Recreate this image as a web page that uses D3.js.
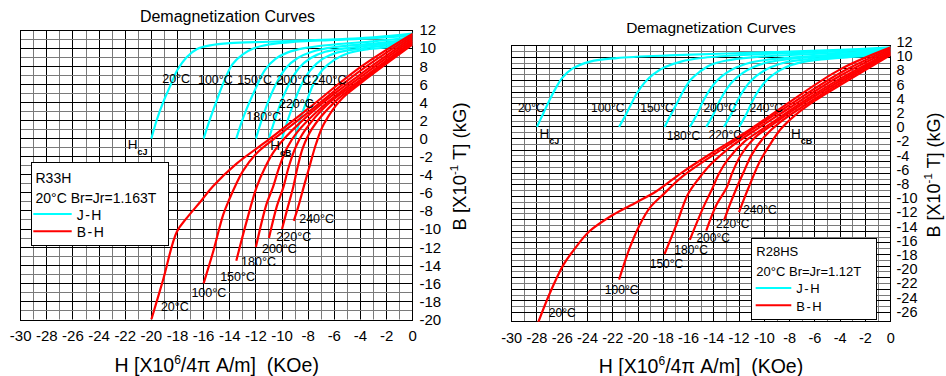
<!DOCTYPE html>
<html>
<head>
<meta charset="utf-8">
<script src="https://cdn.jsdelivr.net/npm/d3@7"></script>
<style>
  body { margin: 0; background: #fff; }
  svg { display: block; font-family: "Liberation Sans", Arial, sans-serif; }
</style>
</head>
<body>
<svg id="chart" width="946" height="376"></svg>
<script>
// ---- data (H in kOe, B/J in kG) ----
const temps = ['20°C', '100°C', '150°C', '180°C', '200°C', '220°C', '240°C'];
const hTicks = d3.range(-30, 1, 2);
const r33hTicksB = d3.range(-20, 13, 2);
const r28hsTicksB = d3.range(-26, 13, 2);

// R33H  J-H curves, one per temperature
const r33hJH = [
  [[-20, 0], [-19.6, 2], [-19.1, 4], [-18.5, 6], [-18, 7.6], [-17.3, 9], [-16.5, 9.9], [-15.5, 10.3], [-14, 10.55], [-11, 10.7], [-7, 10.9], [-3, 11.2], [0, 11.6]],
  [[-16, 0], [-15.5, 2.2], [-15, 4.2], [-14.5, 6.1], [-13.8, 8.2], [-13, 9.3], [-12.2, 9.95], [-11, 10.4], [-9, 10.7], [-6, 10.9], [-3, 11.1], [0, 11.4]],
  [[-13.5, 0], [-13, 2.2], [-12.5, 4], [-12, 5.6], [-11.3, 7.6], [-10.5, 8.8], [-9.6, 9.5], [-8.3, 10], [-6, 10.4], [-3, 10.75], [0, 11.2]],
  [[-12, 0], [-11.5, 2.3], [-11, 4.3], [-10.4, 6.2], [-9.7, 7.8], [-8.8, 8.9], [-7.7, 9.6], [-6, 10.1], [-3, 10.5], [0, 11]],
  [[-11, 0], [-10.5, 2.3], [-10, 4.3], [-9.4, 6.2], [-8.7, 7.8], [-7.8, 8.9], [-6.7, 9.6], [-5, 10], [-2.5, 10.4], [0, 10.8]],
  [[-10, 0], [-9.5, 2.3], [-9, 4.3], [-8.5, 6], [-7.8, 7.6], [-6.9, 8.8], [-5.8, 9.5], [-4, 9.95], [-2, 10.3], [0, 10.6]],
  [[-9, 0], [-8.6, 2.2], [-8.1, 4.2], [-7.6, 6], [-6.9, 7.6], [-6, 8.7], [-5, 9.4], [-3.5, 9.85], [-1.8, 10.1], [0, 10.4]]
];
// R33H  B-H curves
const r33hBH = [
  [[0, 11.6], [-4, 7.9], [-8, 3.3], [-11, -0.1], [-13.5, -2.8], [-15.3, -5.3], [-16.2, -6.9], [-17.3, -8.8], [-18.05, -10.3], [-19.1, -15.6], [-20, -20]],
  [[0, 11.4], [-4, 7.5], [-8, 2.9], [-10.5, 0.1], [-12, -1.7], [-13, -3.6], [-13.5, -5], [-14, -6.6], [-14.5, -8.4], [-15.25, -12.4], [-16, -16]],
  [[0, 11.2], [-4, 7.1], [-7, 3.8], [-9.7, 0.2], [-10.6, -1.4], [-11.3, -3.2], [-11.95, -5.4], [-12.7, -9.1], [-13.5, -13.5]],
  [[0, 11], [-4, 6.8], [-7, 3.4], [-8.9, 0.6], [-9.6, -1], [-10.2, -3.1], [-10.7, -5.4], [-11.2, -7.3], [-12, -12]],
  [[0, 10.8], [-4, 6.5], [-6.5, 3.8], [-8.3, 0.8], [-9, -1.1], [-9.5, -3.2], [-9.9, -5.4], [-10.4, -7.5], [-11, -11]],
  [[0, 10.6], [-4, 6.3], [-6, 4], [-7.7, 1.1], [-8.4, -1], [-8.8, -3.1], [-9.15, -5.4], [-9.6, -7.8], [-10, -10]],
  [[0, 10.4], [-4, 6.1], [-5.5, 4.3], [-6.8, 1.6], [-7.4, -0.6], [-7.9, -3.1], [-8.35, -5.4], [-8.75, -7.5], [-9.1, -9.1]]
];

// R28HS  J-H curves
const r28hsJH = [
  [[-28, 0], [-27.5, 1.9], [-27, 3.8], [-26.5, 5.5], [-26, 6.9], [-25.2, 8.2], [-23.8, 9.2], [-21.7, 9.7], [-17, 10.1], [-10, 10.5], [-4, 10.85], [0, 11.2]],
  [[-21.5, 0], [-21, 1.6], [-20.6, 3], [-20.1, 4.7], [-19.5, 6.2], [-18.8, 7.4], [-17.9, 8.4], [-16.6, 9.2], [-15, 9.7], [-12, 10.1], [-6, 10.5], [0, 11]],
  [[-17.9, 0], [-17.4, 1.7], [-16.9, 3.4], [-16.4, 5.1], [-15.8, 6.7], [-15.1, 7.8], [-14.3, 8.7], [-13, 9.35], [-11, 9.8], [-7, 10.2], [-3, 10.5], [0, 10.8]],
  [[-15.9, 0], [-15.3, 1.9], [-14.8, 3.8], [-14.3, 5.3], [-13.7, 6.6], [-13, 7.6], [-12.2, 8.4], [-11, 9.1], [-9, 9.6], [-6, 10], [-3, 10.3], [0, 10.6]],
  [[-14.6, 0], [-14, 1.9], [-13.5, 3.8], [-13, 5.3], [-12.4, 6.6], [-11.7, 7.6], [-10.9, 8.4], [-9.7, 9.1], [-7.8, 9.6], [-5, 9.95], [-2.5, 10.2], [0, 10.45]],
  [[-13.2, 0], [-12.6, 1.9], [-12.1, 3.8], [-11.6, 5.3], [-11, 6.6], [-10.3, 7.6], [-9.5, 8.4], [-8.3, 9.1], [-6.5, 9.55], [-4, 9.9], [-2, 10.1], [0, 10.3]],
  [[-12, 0], [-11.4, 1.9], [-10.9, 3.8], [-10.4, 5.3], [-9.8, 6.6], [-9.1, 7.6], [-8.3, 8.4], [-7.2, 9.05], [-5.5, 9.5], [-3.5, 9.8], [-1.7, 10], [0, 10.15]]
];
// R28HS  B-H curves
const r28hsBH = [
  [[0, 11.2], [-4, 8.1], [-8, 3.5], [-11, -0.2], [-14, -3.5], [-16.5, -6.4], [-18.55, -9.07], [-20.1, -10.6], [-22, -12.4], [-23.85, -14.7], [-25.15, -17.5], [-25.9, -19.4], [-27, -23.5], [-28, -28]],
  [[0, 11], [-4, 7.6], [-8, 3.1], [-11, -0.4], [-14, -3.9], [-16.5, -7], [-18, -9.5], [-19.07, -11.4], [-19.87, -13.8], [-20.66, -17.05], [-21.5, -21.5]],
  [[0, 10.8], [-4, 7.2], [-8, 2.7], [-10.5, -0.2], [-12.5, -2.6], [-14.2, -5.2], [-15.2, -7.3], [-16.05, -9.5], [-16.97, -13.8], [-17.9, -17.9]],
  [[0, 10.6], [-4, 6.8], [-7, 3.5], [-9.8, 0.1], [-11.6, -2.1], [-12.9, -4.6], [-13.6, -6.6], [-14.1, -8.6], [-14.85, -11.4], [-15.9, -15.9]],
  [[0, 10.45], [-4, 6.5], [-7, 3.2], [-9.3, 0.4], [-10.8, -1.6], [-11.9, -4.1], [-12.5, -6.3], [-13, -8.6], [-13.8, -11], [-14.6, -14.6]],
  [[0, 10.3], [-4, 6.2], [-6.5, 3.4], [-8.8, 0.6], [-10, -1.4], [-11, -3.9], [-11.6, -6.2], [-12.2, -8.6], [-12.7, -10.8], [-13.2, -13.2]],
  [[0, 10.15], [-4, 5.9], [-6, 3.7], [-7.6, 1.6], [-8.7, -0.3], [-9.6, -2.6], [-10.4, -5], [-11.1, -7.9], [-11.6, -10.1], [-12, -12]]
];

// annotation anchors (H, B), same order as temps
const r33hJLabels = [[-18.1, 6.6], [-15.1, 6.5], [-12.1, 6.5], [-11.4, 2.4], [-9.1, 6.5], [-8.9, 3.9], [-6.4, 6.5]];
const r33hBLabels = [[-18.2, -18.6], [-15.6, -17], [-13.4, -15.2], [-11.8, -13.6], [-10.2, -12.1], [-9.1, -10.8], [-7.35, -8.85]];
const r28hsJLabels = [[-28.45, 2.76], [-22.4, 2.76], [-18.5, 2.76], [-16.4, -1.3], [-13.5, 2.76], [-13.1, -1.15], [-9.85, 2.76]];
const r28hsBLabels = [[-26, -26.2], [-21.3, -22.9], [-17.75, -19.3], [-15.8, -17.3], [-14.05, -15.55], [-12.5, -13.7], [-10.35, -11.65]];

const CYAN = '#00ffff';
const RED = '#ff0000';

const panels = [
  {
    id: 'r33h', left: 20.7, right: 412.7, top: 30, bottom: 319.5,
    bDomain: [12, -20], bRange: [30, 319.5],
    gridB: d3.range(-20, 13, 1).map(b => ({ b, dark: b % 2 === 0 })),
    ticksB: r33hTicksB, jh: r33hJH, bh: r33hBH, jLabels: r33hJLabels, bLabels: r33hBLabels,
    labelSize: 12.5, tickSize: 15, yTickX: 419.5, xTickY: 340.5,
    title: { x: 227.5, y: 21.5, size: 16 },
    xTitle: { x: 216.7, y: 371.5, size: 19.5 },
    yTitle: { x: 460, y: 166.5, size: 18.5 },
    hcj: [-21.8, -1.2], hcb: [-10.9, -1.25],
    legend: { x: 31, y: 162.7, w: 137, h: 83, size: 14, name: 'R33H', info: 'Br=Jr=1.163T',
      nameY: 183.3, infoY: 203, jY: 214, jTextY: 219.5, bY: 231.3, bTextY: 236.8, lineX1: 33.3, lineX2: 71.7, textX: 76.7, tx: 35.5 }
  },
  {
    id: 'r28hs', left: 511.7, right: 890.7, top: 45.7, bottom: 321.7,
    bDomain: [12, -26], bRange: [41.7, 311.5],
    gridB: d3.range(-32, 15).map(k => ({ b: k * 0.817, dark: k % 2 === 0 })),
    ticksB: r28hsTicksB, jh: r28hsJH, bh: r28hsBH, jLabels: r28hsJLabels, bLabels: r28hsBLabels,
    labelSize: 12, tickSize: 14.5, yTickX: 896.5, xTickY: 342.5,
    title: { x: 711, y: 32.5, size: 15.5 },
    xTitle: { x: 701, y: 373, size: 19.5 },
    yTitle: { x: 934.5, y: 175, size: 18 },
    hcj: [-27.8, -1.6], hcb: [-7.9, -1.6],
    legend: { x: 751, y: 238, w: 125, h: 80.7, size: 13, name: 'R28HS', info: 'Br=Jr=1.12T',
      nameY: 256.3, infoY: 276.3, jY: 288, jTextY: 293, bY: 305.3, bTextY: 310.7, lineX1: 755.7, lineX2: 791.3, textX: 796.3, tx: 756.3 }
  }
];

const svg = d3.select('#chart');
const crisp = v => Math.round(v - 0.5) + 0.5;

panels.forEach(p => {
  const x = d3.scaleLinear().domain([-30, 0]).range([p.left, p.right]);
  const y = d3.scaleLinear().domain(p.bDomain).range(p.bRange);
  const g = svg.append('g');

  g.append('clipPath').attr('id', 'clip-' + p.id)
    .append('rect')
    .attr('x', p.left).attr('y', p.top)
    .attr('width', p.right - p.left).attr('height', p.bottom - p.top);

  // grid: vertical every 1 kOe, horizontal per panel
  d3.range(-29, 0, 1).forEach(h => {
    g.append('line')
      .attr('x1', crisp(x(h))).attr('x2', crisp(x(h)))
      .attr('y1', p.top).attr('y2', p.bottom)
      .attr('stroke', h % 2 === 0 ? '#000' : '#7a7a7a');
  });
  p.gridB.filter(d => y(d.b) > p.top + 2 && y(d.b) < p.bottom - 2).forEach(d => {
    g.append('line')
      .attr('x1', p.left).attr('x2', p.right)
      .attr('y1', crisp(y(d.b))).attr('y2', crisp(y(d.b)))
      .attr('stroke', d.dark ? '#000' : '#7a7a7a');
  });
  g.append('rect')
    .attr('x', crisp(p.left)).attr('y', crisp(p.top))
    .attr('width', Math.round(p.right - p.left)).attr('height', Math.round(p.bottom - p.top))
    .attr('fill', 'none').attr('stroke', '#000');

  // curves
  const line = d3.line()
    .x(d => x(d[0]))
    .y(d => y(d[1]))
    .curve(d3.curveCatmullRom.alpha(0.5));
  const curves = g.append('g').attr('clip-path', `url(#clip-${p.id})`);
  p.jh.forEach(pts => {
    curves.append('path').attr('d', line(pts))
      .attr('fill', 'none').attr('stroke', CYAN).attr('stroke-width', 2.2);
  });
  p.bh.forEach(pts => {
    curves.append('path').attr('d', line(pts))
      .attr('fill', 'none').attr('stroke', RED).attr('stroke-width', 2.2);
  });

  // temperature labels
  [p.jLabels, p.bLabels].forEach(set => {
    set.forEach((pos, i) => {
      g.append('text')
        .attr('x', x(pos[0])).attr('y', y(pos[1]))
        .attr('dy', '0.36em')
        .attr('text-anchor', 'middle')
        .attr('font-size', p.labelSize)
        .text(temps[i]);
    });
  });

  // Hcj / Hcb
  [[p.hcj, 'cJ'], [p.hcb, 'cB']].forEach(([pos, sub]) => {
    const t = g.append('text')
      .attr('x', x(pos[0])).attr('y', y(pos[1]))
      .attr('font-size', 13.5);
    t.append('tspan').text('H');
    t.append('tspan').attr('dy', 6).attr('font-size', 9).attr('font-weight', 'bold').text(sub);
  });

  // tick labels
  hTicks.forEach(h => {
    g.append('text')
      .attr('x', x(h)).attr('y', p.xTickY)
      .attr('text-anchor', 'middle')
      .attr('font-size', p.tickSize)
      .text(h);
  });
  p.ticksB.forEach(b => {
    g.append('text')
      .attr('x', p.yTickX).attr('y', y(b))
      .attr('dy', '0.36em')
      .attr('font-size', p.tickSize)
      .text(b);
  });

  // titles
  g.append('text')
    .attr('x', p.title.x).attr('y', p.title.y)
    .attr('text-anchor', 'middle')
    .attr('font-size', p.title.size)
    .text('Demagnetization Curves');

  const xt = g.append('text')
    .attr('x', p.xTitle.x).attr('y', p.xTitle.y)
    .attr('text-anchor', 'middle')
    .attr('font-size', p.xTitle.size)
    .style('white-space', 'pre');
  xt.append('tspan').text('H [X10');
  xt.append('tspan').attr('dy', -8).attr('font-size', 12).text('6');
  xt.append('tspan').attr('dy', 8).text('/4π A/m]  (KOe)');

  // rotated: descenders point to +x, so keep the baseline inside the window
  const yt = g.append('text')
    .attr('transform', `translate(${p.yTitle.x},${p.yTitle.y}) rotate(-90)`)
    .attr('dy', '0.33em')
    .attr('text-anchor', 'middle')
    .attr('font-size', p.yTitle.size)
    .style('white-space', 'pre');
  yt.append('tspan').text('B [X10');
  yt.append('tspan').attr('dy', -8).attr('font-size', 11.5).text('-1');
  yt.append('tspan').attr('dy', 8).text(' T] (kG)');

  // legend
  const L = p.legend;
  g.append('rect')
    .attr('x', crisp(L.x)).attr('y', crisp(L.y))
    .attr('width', Math.round(L.w)).attr('height', Math.round(L.h))
    .attr('fill', '#fff').attr('stroke', '#000');
  g.append('text').attr('x', L.tx).attr('y', L.nameY).attr('font-size', L.size).text(L.name);
  g.append('text').attr('x', L.tx).attr('y', L.infoY).attr('font-size', L.size)
    .style('white-space', 'pre').text('20°C ' + L.info);
  [[L.jY, L.jTextY, CYAN, 'J-H'], [L.bY, L.bTextY, RED, 'B-H']].forEach(([ly, ty, c, name]) => {
    g.append('line').attr('x1', L.lineX1).attr('x2', L.lineX2).attr('y1', ly).attr('y2', ly)
      .attr('stroke', c).attr('stroke-width', 2);
    g.append('text').attr('x', L.textX).attr('y', ty).attr('font-size', L.size)
      .attr('letter-spacing', 1.5).text(name);
  });
});
</script>
</body>
</html>
